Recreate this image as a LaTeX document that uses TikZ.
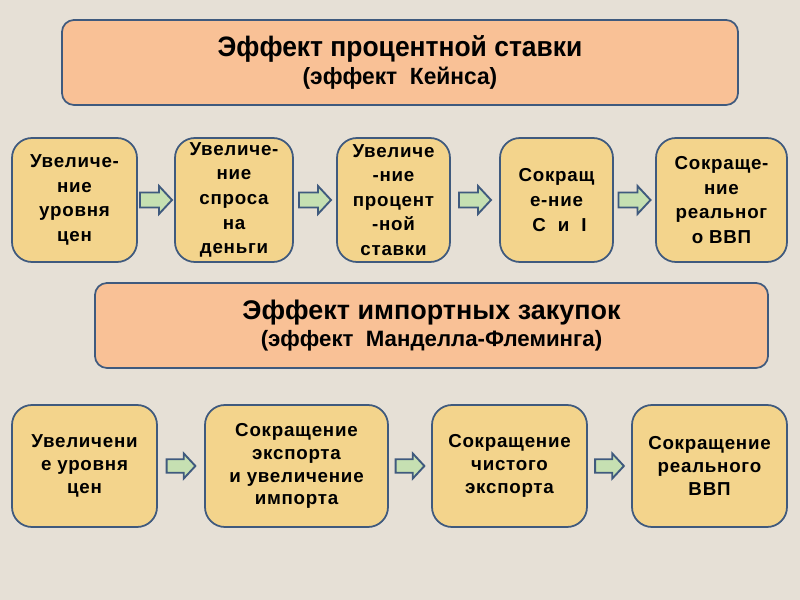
\documentclass[tikz,border=0pt]{standalone}
\usepackage{fontspec}
\setmainfont{Liberation Sans}
\usetikzlibrary{calc}

\definecolor{bgpaper}{HTML}{E6E0D6}
\definecolor{peach}{HTML}{F9C196}
\definecolor{gold}{HTML}{F3D48C}
\definecolor{rim}{HTML}{3F5A7E}
\definecolor{leaf}{HTML}{C6E0B2}

\tikzset{
  headbox/.style={draw=rim, fill=peach, line width=1.5pt, rounded corners=0.36cm,
                  align=center, inner sep=0pt, text=black},
  stepbox/.style={draw=rim, fill=gold, line width=1.5pt, rounded corners=0.6cm,
                  align=center, inner sep=0pt, text=black,
                  font=\fontsize{16}{21}\selectfont\bfseries\addfontfeatures{LetterSpace=4}},
  lowbox/.style={stepbox, font=\fontsize{16}{19.5}\selectfont\bfseries\addfontfeatures{LetterSpace=4}},
  blockarr/.pic={
    \draw[draw=rim, fill=leaf, line width=1.6pt, line join=miter]
      (-16,-7.5) -- (3,-7.5) -- (3,-14) -- (16,0)
      -- (3,14) -- (3,7.5) -- (-16,7.5) -- cycle;
  }
}

\begin{document}
\begin{tikzpicture}[x=0.03cm, y=-0.03cm]

\fill[bgpaper] (0,0) rectangle (800,600);
\useasboundingbox (0,0) rectangle (800,600);

% keynes effect
\node[headbox, minimum width=20.28cm, minimum height=2.55cm] (keynes) at (400,62.5)
  {\scalebox{0.94}[1]{\fontsize{24}{25}\selectfont\bfseries Эффект процентной ставки}\\[3pt]
   \scalebox{0.97}[1]{\fontsize{20}{21}\selectfont\bfseries (эффект\ \ Кейнса)}};

\node[stepbox, minimum width=3.75cm, minimum height=3.72cm] (ka) at (74.5,200)
  {Увеличе-\\ние\\уровня\\цен};
\node[stepbox, minimum width=3.54cm, minimum height=3.72cm] (kb) at (234,200)
  {Увеличе-\\ние\\спроса\\на\\деньги};
\node[stepbox, minimum width=3.39cm, minimum height=3.72cm] (kc) at (393.5,200)
  {Увеличе\\-ние\\процент\\-ной\\ставки};
\node[stepbox, minimum width=3.39cm, minimum height=3.72cm] (kd) at (556.5,200)
  {Сокращ\\е-ние\\\ C\ \ и\ \ I};
\node[stepbox, minimum width=3.93cm, minimum height=3.72cm] (ke) at (721.5,200)
  {Сокраще-\\ние\\реальног\\о ВВП};

\pic at ($(ka.east)!0.5!(kb.west)$) {blockarr};
\pic at ($(kb.east)!0.5!(kc.west)$) {blockarr};
\pic at ($(kc.east)!0.5!(kd.west)$) {blockarr};
\pic at ($(kd.east)!0.5!(ke.west)$) {blockarr};

% import purchases effect
\node[headbox, minimum width=20.19cm, minimum height=2.55cm] (mundell) at (431.5,325.5)
  {\fontsize{23}{25}\selectfont\bfseries Эффект импортных закупок\\[4pt]
   \fontsize{19}{20}\selectfont\bfseries (эффект\ \ Манделла-Флеминга)};

\node[lowbox, minimum width=4.35cm, minimum height=3.66cm] (ma) at (84.5,466)
  {Увеличени\\е уровня\\цен};
\node[lowbox, minimum width=5.49cm, minimum height=3.66cm] (mb) at (296.5,466)
  {Сокращение\\экспорта\\и увеличение\\импорта};
\node[lowbox, minimum width=4.65cm, minimum height=3.66cm] (mc) at (509.5,466)
  {Сокращение\\чистого\\экспорта};
\node[lowbox, minimum width=4.65cm, minimum height=3.66cm] (md) at (709.5,466)
  {Сокращение\\реального\\ВВП};

\pic[scale=0.9] at ($(ma.east)!0.5!(mb.west)$) {blockarr};
\pic[scale=0.9] at ($(mb.east)!0.5!(mc.west)$) {blockarr};
\pic[scale=0.9] at ($(mc.east)!0.5!(md.west)$) {blockarr};

\end{tikzpicture}
\end{document}
